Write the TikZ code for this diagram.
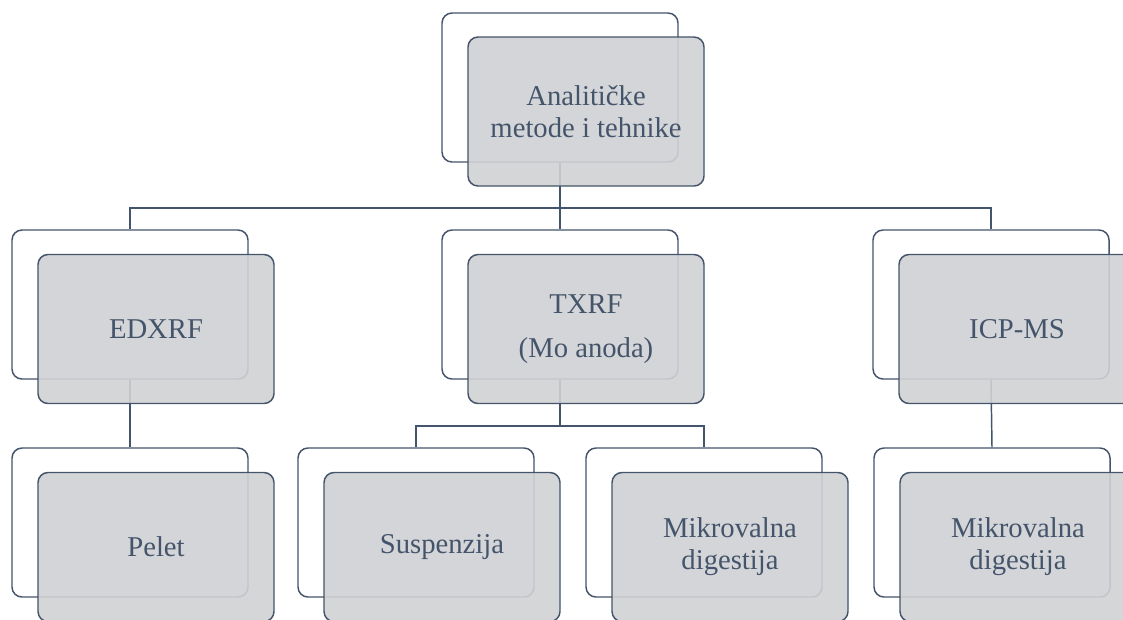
\documentclass[tikz,border=0pt]{standalone}
\usepackage{fontspec}
\setmainfont{Liberation Serif}
\definecolor{slate}{HTML}{44546A}
\definecolor{boxgray}{RGB}{208,209,212}
\tikzset{
  backbox/.style={draw=slate, line width=1.1pt, rounded corners=7.5pt, fill=white,
    minimum width=177pt, minimum height=111.75pt, inner sep=0pt},
  frontbox/.style={draw=slate, line width=1.1pt, rounded corners=7.5pt, fill=boxgray, fill opacity=0.9,
    text opacity=1, text=slate, minimum width=177pt, minimum height=111.75pt, inner sep=0pt,
    align=center, font=\fontsize{21.5}{24}\selectfont},
  conn/.style={draw=slate, line width=1.1pt}
}
\begin{document}
\begin{tikzpicture}[x=0.75pt,y=-0.75pt]
\useasboundingbox (0,0) rectangle (1123,619);
\clip (0,0) rectangle (1123,619);
% back boxes
\node[backbox] (topb) at (560,87.5) {};
\node[backbox] (edb) at (130,304.5) {};
\node[backbox] (txb) at (560,304.5) {};
\node[backbox] (icb) at (991,304.5) {};
\node[backbox] (peb) at (130,522.5) {};
\node[backbox] (sub) at (416,522.5) {};
\node[backbox] (mib) at (704,522.5) {};
\node[backbox] (m2b) at (992,522.5) {};
% connectors
\coordinate (j1) at (560,208);
\coordinate (j2) at (560,426);
\draw[conn] (topb.south) -- (j1);
\draw[conn] (j1) -| (edb.north);
\draw[conn] (j1) -- (txb.north);
\draw[conn] (j1) -| (icb.north);
\draw[conn] (edb.south) -- (peb.north);
\draw[conn] (txb.south) -- (j2);
\draw[conn] (j2) -| (sub.north);
\draw[conn] (j2) -| (mib.north);
\draw[conn] (icb.south) -- (m2b.north);
% front boxes
\node[frontbox] (topf) at (586,111.5) {Analitičke\\metode i tehnike};
\node[frontbox] (edf) at (156,329) {EDXRF};
\node[frontbox] (txf) at (586,329) {TXRF\\[9pt](Mo anoda)};
\node[frontbox] (icf) at (1017,329) {ICP-MS};
\node[frontbox] (pef) at (156,547) {Pelet};
\node[frontbox] (suf) at (442,547) {Suspenzija};
\node[frontbox] (mif) at (730,547) {Mikrovalna\\digestija};
\node[frontbox] (m2f) at (1018,547) {Mikrovalna\\digestija};
\end{tikzpicture}
\end{document}
